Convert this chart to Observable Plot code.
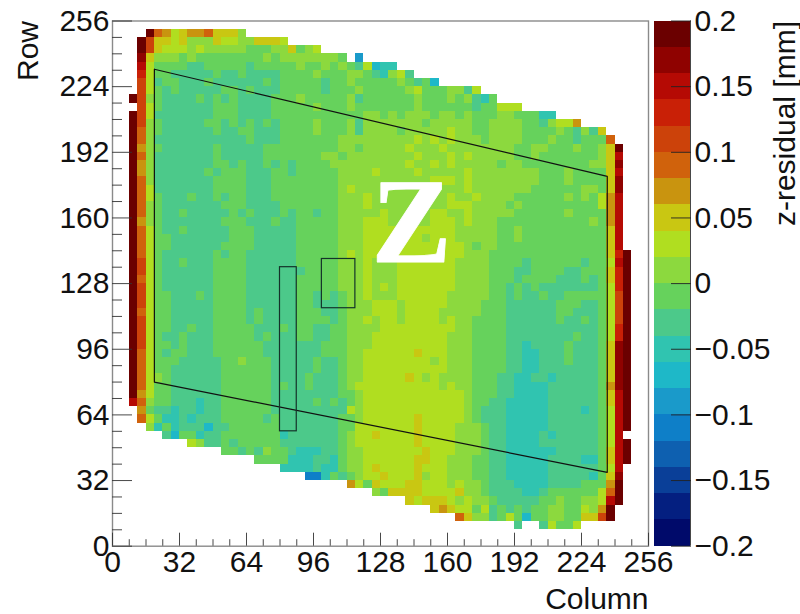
<!DOCTYPE html>
<html><head><meta charset="utf-8">
<script src="https://cdn.jsdelivr.net/npm/d3@7"></script>
<script src="https://cdn.jsdelivr.net/npm/@observablehq/plot@0.6"></script>
<style>
html,body{margin:0;padding:0;background:#fff}
#wrap{position:relative;width:800px;height:614px;overflow:hidden}
#wrap svg{position:absolute;top:0;overflow:visible;background:transparent}
</style></head><body><div id="wrap"></div>
<script>
// Rows from the top of the chart (row 252-256 first). Each token: start column bin + level key; "." = empty.
const rows = [
"",
"4K5F6E7C8D9E11F12D15B16.",
"3K4G5D7C8D9B12D13C15B17D20C21.",
"3K4G5D6C9B10C11B16A19B21D22A23B24C25.",
"3J4D5B8A9B10A18B19A20B27A28.29v30.",
"3I4C5A9s11A16s17A22B23A25B26A27B28A29s30C31u32t34.",
"3H4C5A7s12A13s15A16s20A24B25A28B30A31s32t33B34C35s36.",
"3G4C5s6A8s11A12s18A19s20A25s26A28B29A34B35A36s37A38u39.",
"3G4C5A6s7A8s13A15s16A17s20A25s26A29B30A35B36C37A40B42s43C44.",
"2K3G4B5A6s10A11s12A13s14A15s19A22B23A28B29s30A36B37A40B41A42B43s44t45A46.",
"3G4C5A6s12A15s19A24B25A28B29A36B37A43s44A46C49.",
"2K3G4C5s12A15s19A30B32A33B34A35B38A39B41A42B43A46B48A51t53.",
"2K3G4B5A6s11A13s14A15s16A17s18A19s20A24B25A28B29s30B37A38B43A45B49A51s52B53C55E56.",
"2K3F4B5A6s12A13s15A17s20A24B25A28B29s30B34A35B40C41B43A45B49A53B54A55s56B57s58D59.",
"2K3F4B5s16A17s20A27B36C37B38C39B40C41B44A45B49A52B53A55s56A59F60.",
"2K3E4B5A6s12A13s18A27B29A30B35C36B39C40B48A50B52A55B56A58B59D60K61.",
"2K3F4B5s12A13s18A25B27A28B36C37B40C41B42C43B48A50B51A58B59D60I61.",
"2K3E4B5s12A14s15A16s18A19s20A21s22A26B35C36B38C39B40C41B46A47B49A57B59D60J61.",
"2K3E4B5s11A12s13A16s19A21s22A27B31C32B36C37B42C43B51A54B55A59D60I61.",
"2K3F4B5s12A16s19A27B38C41B42C43B51A54B55A59D60J61.",
"2K3F4C5s12A16s19A27B28C29B42C43B50A56B58A59D60J61.",
"2K3F4C5A6s9A10s12A13s14A16s19A27B30C31B40C41B43C44B48A54B55A56B57A58C59E60I61.",
"2K3F4B5A6s13A16s20A27B30C31B40C43B47A48B49A58C59E60I61.",
"2K3F4B5A6s8A9s14A15s16A17s20A21s22A24s25A27B32C33B38C40B42C43B48A54B55A59E60I61.",
"2K3E4B5A6s13A16s19A20s22A27B30C33B38C41B42C43B46A57B58A59E60I61.",
"2K3F4C5A6s8A9s14A17s22A27B30C41B46A48B49A59D60I61.",
"2K3F4C5A7s14A17s22A27B30C37B38C41B46A48B49A59D60I61.",
"2K3F4C5A7s13A17s22A27B30C42B43A44B46A59D60I61.",
"2K3F4C5A6s12A13s14A16s22A27B28C29B30C42B45A59D60H61K62.",
"2K3G4C5A6s8A9s12A16s22A27B30C31B34C41B45A49s50A56s57A59C60I61K62.",
"2K3G4C5A6s12A16s23A27B30C31B34C41B45A48s50A54s56A59D60H61K62.",
"2K3F4C5A6s12A16s22A27B30C31B34C41B45A48s49A53s56A57s58A59D60H61K62.",
"2K3G4C5A6s12A16s22A27B30C31B32C33B34C41B45A47s48A49s50A51s58A59C60H61K62.",
"2K3G4C5A7s10A11s12A16s22A24s25A26s27A28B30C31B33B34C40B45A47s48A49s51A52s54A59C60G61K62.",
"2K3G4C5A7s12A16s22A24s27A28B31C34B35C40B44A47s53A56s58A59C60G61K62.",
"2K3F4C5A7s12A16s17A18s22A25s27A28B31C34B35C39B44A47s53A55s58A59C60G61K62.",
"2K3G4C5A7s12A16s17A18s22A26s27A28B30C31B32C34B35C39B40C41B43A47s53A54s56A57s58A59C60G61K62.",
"2K3G4C5A7s9A10s12A17s20A21s22A24s26A28B32C41B43A47s58A59C60H61K62.",
"2K3G4C5A6s8A9s12A17s18A19s22A24s26A28B31C40B43A47s55A56s58A59C60H61K62.",
"2K3G4C5A7s8A9s12A18s25A28B31C40B43A47s49t50s54A55s58A59D60J61K62.",
"2K3F4C5A6s7A9s12A18s25A28B30C36D37C40B43A47s49t51s54A55s58A59D60J61K62.",
"2K3F4C5A8s13A15B16A19s24A25s27A28B30C38B39C40B43A47s49t51s54A55s58A59D60J61K62.",
"2K3F4C5A7s13A19s24A25s27A28B30C40B43A47s49t51s58A59D60J61K62.",
"2K3F4C5B6A7s13A19s23A24s27A28B30C35D36C37B38C39B43A46s48t50s52t53s58A59D60J61K62.",
"2K3F4C5A7s13A19s20A21s23A24s27A28B29C39B40C41B43A46s48t52s58A59E60J61K62.",
"2K3E4C5A7s13A19s27A29B30C42B43A46s48t52s58A59D60I61K62.",
"2I3F4B5A7s10t11s13A19s24A25s26A27s28A29B30C42B43A45s47t52s58A59D60I61K62.",
"3E4A5s7t8s10t11s13A19s28C29B30C42B43A44s47t52s56t57s58A59C60I61K62.",
"3F4C5A6t8s9t10s13A18s19A20s27A29B30C36D37C42B43A44s47t52s58A59C60I61K62.",
"4B5t6A7t8s11u12s14A20s27A29C36D37C41B44A45s47t52s58A59C60I61K62.",
"6s7u8A10t11s13A20t21s27A28B29C31D32C36D37C41B44A45s47t51s52t53s58A59C60I61.",
"9C10B11s13A14s15A20s27A28B29C36D37C41B44A45s47t51s58A59C60I61K62.",
"13A15s16A17s18B19A21s22t25s27A28B30C37D38C41B44A45s47t53s58A59D60I61K62.",
"17A21t24s26t27A28B30C36D38C40B43A45s47t52s56t58A59D60I61K62.",
"20t24s25t27A28B30C31D32C36D37C40B43A45s47t52s58A59C60I61.",
"23w25t26A27s28A29B30C32D33C36D37B38C40B43A45s47t52s57t58A59D60J61.",
"28E29C30A31D32C35D37C40B41C42B44A45s48t52s56A59E60K61.",
"31B32A33D37C41D42B44A45s49t51s52A58C59F60K61.",
"35D36C37D40C41B42C43B45A46s51A53B54A56B58C59I60K61.",
"38D39E40D41C43A44C45s46A47s48A49s50A52B54A56C57B58E59K60.",
"41F42D43B45s46A47C48A49u50A52B54A56D58G59K60.",
"48s49.51s52C53A55C56."
];
const levelKeys = "0123wvuts"; // levels 0..8 (0-3 unused in the map)
const levelKeysHigh = "ABCDEFGHIJK"; // levels 9..19
const colors = ["#000a6a","#041f80","#0a3f98","#0e60b0","#0e7fc8","#1a9aca","#1eb8c8","#30c4b0","#4cc98a","#66d25c","#8cd93e","#b0de20","#c9c712","#c9940f","#d0620c","#cc420a","#c92006","#b50a04","#8f0200","#6b0000"];
const zMin = -0.2, zStep = 0.02;
const binSize = 4, rowTop = 256;
const majorTicks = [0,32,64,96,128,160,192,224,256];
const minorTicks = [8,16,24,40,48,56,72,80,88,104,112,120,136,144,152,168,176,184,200,208,216,232,240,248];
const zTicks = [-0.2,-0.15,-0.1,-0.05,0,0.05,0.1,0.15,0.2];
const zLabels = ["\u22120.2","\u22120.15","\u22120.1","\u22120.05","0","0.05","0.1","0.15","0.2"];
const hexagonCol = [20,236.3,236.3,20,20];
const hexagonRow = [232.5,180.3,36,80,232.5];
const boxCol1 = [80,100], boxCol2 = [88,116], boxRow1 = [56,116], boxRow2 = [136,140];

const levelOf = k => { const a = levelKeys.indexOf(k); return a >= 0 ? a : 9 + levelKeysHigh.indexOf(k); };
const valueOf = l => zMin + zStep * (l + 0.5);
const cells = [];
rows.forEach((r, j) => {
  const t = [...r.matchAll(/(\d+)([A-Za-z.])/g)].map(m => [+m[1], m[2]]);
  t.forEach(([s, k], n) => {
    if (k === "." || n + 1 >= t.length) return;
    for (let i = s; i < t[n + 1][0]; i++) cells.push({i, j, v: valueOf(levelOf(k))});
  });
});
const bar = colors.map((c, l) => ({l, a: zMin + zStep * l, b: zMin + zStep * (l + 1), v: valueOf(l)}));
const boxes = boxCol1.map((c, n) => ({x1: c, x2: boxCol2[n], y1: boxRow1[n], y2: boxRow2[n]}));
const thresholds = d3.range(1, 20).map(l => zMin + zStep * l);
const colorScale = {type: "threshold", domain: thresholds, range: colors};
const font = "'Liberation Sans',Arial,sans-serif";
const W = 800, H = 614, mT = 20.5, mB = 68.3, fs = 30;

const main = Plot.plot({
  width: W, height: H, marginLeft: 112, marginRight: 152, marginTop: mT, marginBottom: mB,
  style: {fontFamily: font, fontSize: "30px", color: "#111", background: "transparent"},
  x: {domain: [0, 256], axis: null}, y: {domain: [0, 256], axis: null},
  color: colorScale,
  marks: [
    Plot.rect(cells, {x1: d => d.i * binSize, x2: d => (d.i + 1) * binSize,
      y1: d => rowTop - (d.j + 1) * binSize, y2: d => rowTop - d.j * binSize,
      fill: "v", shapeRendering: "crispEdges"}),
    Plot.frame({stroke: "#8a8a8a", strokeWidth: 1.4}),
    Plot.axisY(majorTicks, {anchor: "left", tickSize: -20, tickFormat: () => null, stroke: "#333", strokeWidth: 0.9, label: null}),
    Plot.axisY(minorTicks, {anchor: "left", tickSize: -10, tickFormat: () => null, stroke: "#333", strokeWidth: 0.9, label: null}),
    Plot.axisX(majorTicks, {anchor: "bottom", tickSize: -13, tickFormat: () => null, stroke: "#333", strokeWidth: 0.9, label: null}),
    Plot.axisX(minorTicks, {anchor: "bottom", tickSize: -6.5, tickFormat: () => null, stroke: "#333", strokeWidth: 0.9, label: null}),
    Plot.axisY(majorTicks, {anchor: "left", tickSize: 0, tickPadding: 3, fontSize: fs, label: null}),
    Plot.axisX(majorTicks, {anchor: "bottom", tickSize: 0, tickPadding: 4, fontSize: fs, label: null}),
    Plot.line(hexagonCol.map((c, n) => [c, hexagonRow[n]]), {x: "0", y: "1", stroke: "#111", strokeWidth: 1.2}),
    Plot.rect(boxes, {x1: "x1", x2: "x2", y1: "y1", y2: "y2", fill: "none", stroke: "#14332a", strokeWidth: 1.2}),
    Plot.text(["Z"], {x: 142.8, y: 138.3, textAnchor: "middle", lineAnchor: "bottom", fill: "white", stroke: "white", strokeWidth: 0.8, fontFamily: "'Liberation Serif',serif", fontWeight: "bold", fontSize: 120}),
    Plot.text(["Row"], {frameAnchor: "top-left", dx: -84, dy: 0, rotate: -90, textAnchor: "end", fontSize: fs, lineAnchor: "middle", fill: "#111"}),
    Plot.text(["Column"], {frameAnchor: "bottom-right", dy: 63, textAnchor: "end", lineAnchor: "bottom", fontSize: fs, fill: "#111"})
  ]
});

const side = Plot.plot({
  width: 150, height: H, marginLeft: 3.5, marginRight: 110, marginTop: mT, marginBottom: mB,
  style: {fontFamily: font, fontSize: "30px", color: "#111", background: "transparent"},
  x: {domain: [0, 1], axis: null}, y: {domain: [zMin, -zMin], axis: null},
  color: colorScale,
  marks: [
    Plot.rect(bar, {x1: 0, x2: 1, y1: "a", y2: "b", fill: "v", shapeRendering: "crispEdges"}),
    Plot.ruleX([1], {stroke: "#333", strokeWidth: 0.9}),
    Plot.axisY(zTicks, {anchor: "right", tickSize: -20, tickFormat: () => null, stroke: "#222", strokeWidth: 0.9, label: null}),
    Plot.axisY(zTicks, {anchor: "right", tickSize: 0, tickPadding: 4, fontSize: fs, label: null,
      tickFormat: d => zLabels[zTicks.indexOf(d)]}),
    Plot.text(["z-residual [mm]"], {frameAnchor: "top-right", dx: 95, rotate: -90, textAnchor: "end", lineAnchor: "middle", fontSize: fs, fill: "#111"})
  ]
});
side.style.left = "650px";
const wrap = document.getElementById("wrap");
wrap.append(main, side);
</script></body></html>
